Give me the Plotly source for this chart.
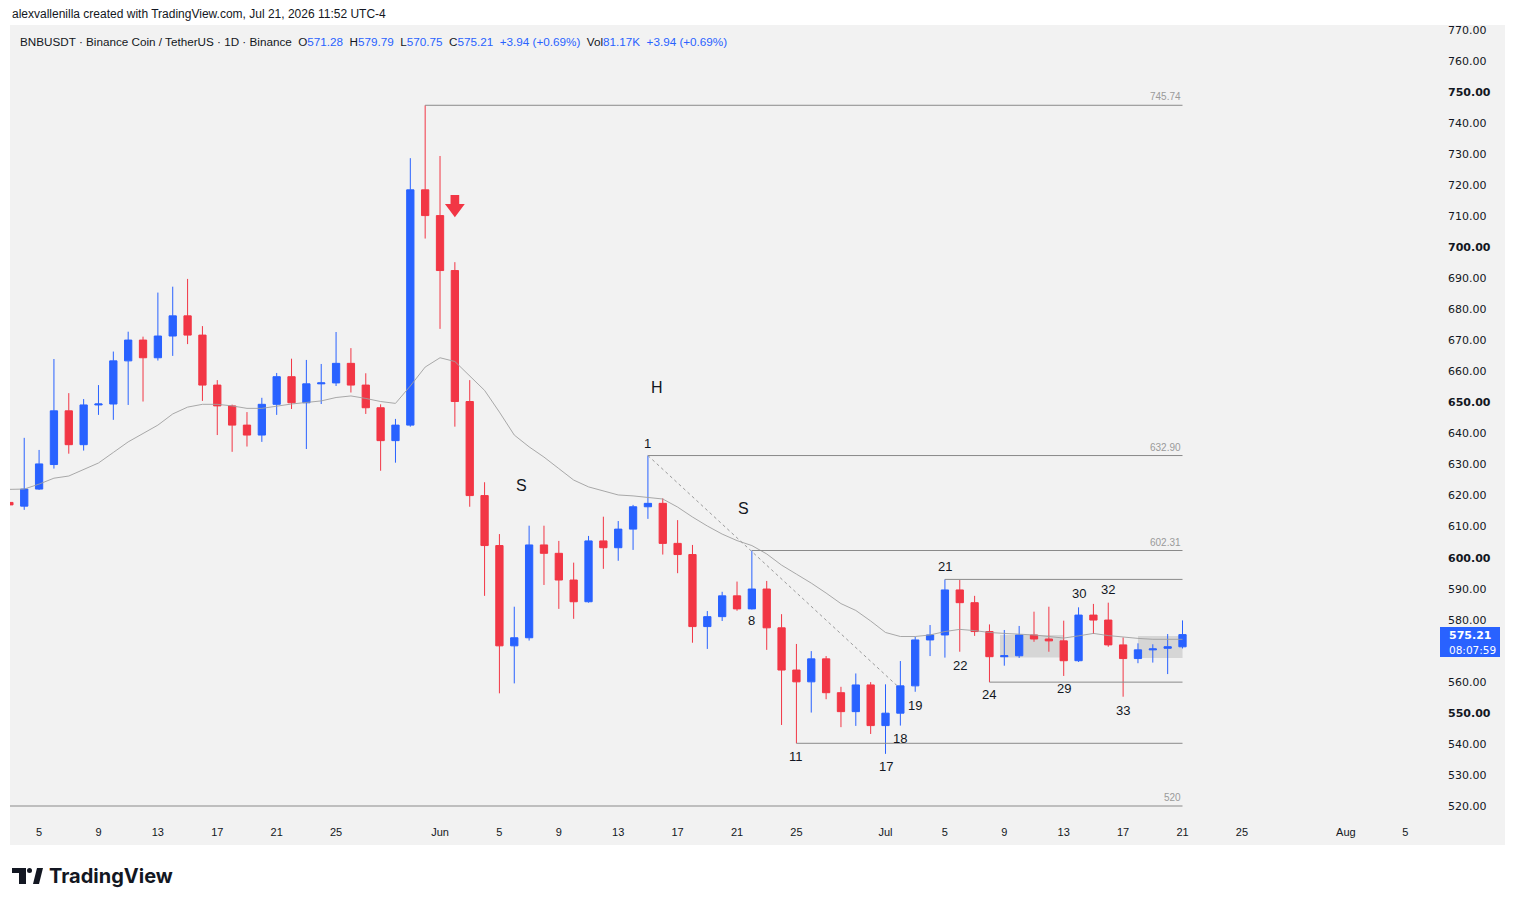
import plotly.graph_objects as go
import pandas as pd

# ---------------- data ----------------
dates = pd.date_range("2026-05-03", "2026-07-21", freq="D")
opens = [617.8, 616.6, 622.1, 630.0, 647.3, 636.4, 649.2, 649.5, 663.4, 670.1,
         664.4, 671.4, 677.9, 671.7, 655.6, 648.9, 642.7, 639.5, 649.4, 658.3,
         649.9, 656.0, 656.3, 662.6, 655.6, 648.3, 637.7, 642.7, 718.5, 710.2,
         692.5, 650.3, 620.0, 603.9, 571.6, 574.2, 604.1, 601.4, 592.8, 585.8,
         605.4, 603.2, 609.2, 616.4, 617.5, 604.6, 601.0, 577.8, 581.0, 587.7,
         583.5, 589.9, 577.4, 563.8, 560.0, 567.4, 556.5, 550.4, 559.0, 545.9,
         549.9, 558.7, 573.5, 575.1, 589.6, 585.5, 576.2, 568.1, 568.4, 575.1,
         573.8, 573.2, 566.8, 581.5, 579.9, 571.9, 567.5, 570.3, 570.8, 571.28]
highs = [618.2, 638.6, 634.7, 664.0, 653.0, 651.1, 655.6, 666.4, 672.8, 671.2,
         685.4, 687.3, 689.8, 674.6, 657.2, 649.3, 646.9, 651.5, 659.5, 664.1,
         663.7, 662.4, 672.7, 667.5, 659.4, 649.4, 644.7, 728.7, 745.74, 729.4,
         695.2, 657.2, 624.3, 607.6, 584.2, 610.3, 610.3, 605.4, 598.4, 607.0,
         613.2, 611.8, 617.0, 632.9, 619.1, 612.1, 604.1, 582.8, 589.0, 592.3,
         602.31, 592.5, 581.8, 572.2, 569.9, 568.3, 558.4, 562.7, 559.9, 559.2,
         566.7, 574.5, 578.3, 593.0, 592.8, 587.7, 578.5, 576.7, 578.0, 582.6,
         584.2, 579.7, 584.0, 585.1, 585.5, 574.3, 572.4, 572.1, 575.4, 579.79]
lows = [616.4, 615.4, 621.8, 628.7, 633.5, 634.5, 646.0, 644.4, 649.2, 650.3,
        663.5, 665.0, 668.8, 650.5, 639.5, 634.1, 635.8, 637.3, 646.0, 647.9,
        635.0, 649.5, 655.3, 653.2, 646.3, 628.0, 630.6, 642.2, 702.8, 673.7,
        642.2, 616.4, 587.7, 556.3, 559.5, 573.3, 591.2, 583.5, 580.3, 585.5,
        596.4, 599.0, 602.5, 612.5, 601.0, 595.0, 572.6, 570.6, 579.6, 582.9,
        583.3, 570.3, 546.1, 540.2, 550.1, 554.4, 545.4, 545.8, 543.2, 536.8,
        545.9, 556.8, 568.3, 567.8, 569.7, 574.8, 559.9, 565.2, 567.7, 572.9,
        569.7, 561.9, 566.4, 575.4, 571.3, 555.2, 566.0, 566.2, 562.5, 570.75]
closes = [617.0, 622.1, 630.2, 647.3, 636.4, 649.2, 649.5, 663.4, 670.1, 664.4,
          671.4, 677.9, 671.7, 655.6, 648.9, 642.7, 639.5, 649.4, 658.3, 649.9,
          656.0, 656.3, 662.6, 655.6, 648.3, 637.7, 642.7, 718.5, 710.2, 692.5,
          650.3, 620.0, 603.9, 571.6, 574.2, 604.1, 601.4, 592.8, 585.8, 605.4,
          603.2, 609.2, 616.4, 617.5, 604.6, 601.0, 577.8, 581.0, 587.7, 583.5,
          589.9, 577.4, 563.8, 560.0, 567.4, 556.5, 550.4, 559.0, 545.9, 549.9,
          558.7, 573.5, 575.1, 589.6, 585.5, 576.2, 568.1, 568.4, 575.1, 573.8,
          573.2, 566.8, 581.5, 579.9, 571.9, 567.5, 570.3, 570.6, 571.3, 575.21]
ma_values = [622.0, 622.1, 623.7, 625.6, 626.3, 628.4, 630.5, 633.9, 637.3, 640.0,
             642.7, 646.3, 648.5, 649.4, 649.4, 648.9, 648.1, 648.1, 648.9, 649.5,
             650.0, 650.5, 651.6, 652.1, 651.3, 650.3, 649.7, 655.3, 661.4, 664.4,
             663.2, 658.5, 653.9, 646.9, 639.5, 635.7, 632.4, 628.7, 625.0, 622.8,
             621.5, 620.2, 619.9, 619.5, 618.9, 616.3, 613.1, 610.2, 607.6, 605.5,
             603.9, 601.2, 597.6, 594.7, 591.8, 588.6, 585.2, 583.0, 579.6, 575.9,
             574.6, 574.6, 575.1, 576.2, 576.9, 576.5, 575.9, 575.6, 575.4, 575.1,
             574.6, 574.1, 574.8, 575.6, 574.9, 574.4, 574.0, 573.7, 573.7, 573.7]

level_prices = [745.74, 632.90, 602.31, 593.0, 559.9, 540.2, 520.0]
level_starts = ["2026-05-31", "2026-06-15", "2026-06-22", "2026-07-05",
                "2026-07-08", "2026-06-25", "2026-05-03 01:00"]
level_labels = ["745.74", "632.90", "602.31", "", "", "", "520"]
level_end = "2026-07-21"

box_x0 = ["2026-07-08 17:00", "2026-07-18 00:00"]
box_x1 = ["2026-07-13 00:00", "2026-07-21 00:00"]
box_lo = [567.8, 567.7]
box_hi = [575.1, 574.8]

diag_x = ["2026-06-15", "2026-07-01 19:00"]
diag_y = [632.9, 558.7]

label_texts = ["H", "S", "S", "1", "8", "11", "17", "18", "19", "21", "22", "24", "29", "30", "32", "33"]
label_x = ["2026-06-15 15:00", "2026-06-06 11:00", "2026-06-21 10:00", "2026-06-15", "2026-06-22",
           "2026-06-25", "2026-07-01", "2026-07-02", "2026-07-03", "2026-07-05", "2026-07-06",
           "2026-07-08", "2026-07-13", "2026-07-14", "2026-07-16", "2026-07-17"]
label_y = [654.7, 623.4, 615.7, 636.9, 579.6, 536.1, 532.6, 541.6, 552.5, 597.3, 565.4,
           555.8, 557.7, 588.3, 589.6, 550.9]

x_tick_vals = ["2026-05-05", "2026-05-09", "2026-05-13", "2026-05-17", "2026-05-21", "2026-05-25",
               "2026-06-01", "2026-06-05", "2026-06-09", "2026-06-13", "2026-06-17", "2026-06-21",
               "2026-06-25", "2026-07-01", "2026-07-05", "2026-07-09", "2026-07-13", "2026-07-17",
               "2026-07-21", "2026-07-25", "2026-08-01", "2026-08-05"]
x_tick_text = ["5", "9", "13", "17", "21", "25", "Jun", "5", "9", "13", "17", "21", "25",
               "Jul", "5", "9", "13", "17", "21", "25", "Aug", "5"]
# 570 is hidden behind the last-price tag in the reference
y_tick_vals = [v for v in range(520, 780, 10) if v != 570]
y_tick_text = [("<b>%.2f</b>" % v) if v % 50 == 0 else ("%.2f" % v) for v in y_tick_vals]

# ---------------- layout helpers ----------------
W, H = 1515, 906
PL, PR, PT, PB = 10, 1430, 25, 815


def pxx(x):
    return (x - PL) / (PR - PL)


def pxy(y):
    return (PB - y) / (PB - PT)


BLUE = "#2962ff"
RED = "#f23645"
TXT = "#131722"
GREY_LINE = "#8a8a8a"

fig = go.Figure()

fig.add_trace(go.Scatter(x=dates, y=ma_values, mode="lines",
                         line=dict(color="rgba(160,160,160,0.9)", width=1),
                         hoverinfo="skip", showlegend=False))

fig.add_trace(go.Candlestick(
    x=dates, open=opens, high=highs, low=lows, close=closes,
    increasing=dict(line=dict(color=BLUE, width=1), fillcolor=BLUE),
    decreasing=dict(line=dict(color=RED, width=1), fillcolor=RED),
    showlegend=False))

# red arrow (drawing) above Jun 2
ac = pd.Timestamp("2026-06-02")
h = pd.Timedelta(hours=1)
arrow_x = [ac - 7 * h, ac + 7 * h, ac + 7 * h, ac + 16 * h, ac, ac - 16 * h, ac - 7 * h, ac - 7 * h]
arrow_y = [716.8, 716.8, 713.9, 713.9, 709.7, 713.9, 713.9, 716.8]
fig.add_trace(go.Scatter(x=arrow_x, y=arrow_y, mode="lines", fill="toself",
                         fillcolor=RED, line=dict(color=RED, width=0),
                         hoverinfo="skip", showlegend=False))

shapes = []
# panel background
shapes.append(dict(type="rect", xref="paper", yref="paper",
                   x0=pxx(10), x1=pxx(1505), y0=pxy(845), y1=pxy(25),
                   fillcolor="#f2f2f2", line=dict(width=0), layer="below"))
# levels
for p, s in zip(level_prices, level_starts):
    shapes.append(dict(type="line", xref="x", yref="y", x0=s, x1=level_end, y0=p, y1=p,
                       line=dict(color=GREY_LINE, width=1)))
# boxes
for a, b, lo, hi in zip(box_x0, box_x1, box_lo, box_hi):
    shapes.append(dict(type="rect", xref="x", yref="y", x0=a, x1=b, y0=lo, y1=hi,
                       fillcolor="rgba(150,150,150,0.3)", line=dict(width=0), layer="below"))
# diagonal dotted
shapes.append(dict(type="line", xref="x", yref="y", x0=diag_x[0], x1=diag_x[1],
                   y0=diag_y[0], y1=diag_y[1], line=dict(color="#9a9a9a", width=1, dash="dot")))
# price tag
shapes.append(dict(type="rect", xref="paper", yref="paper",
                   x0=pxx(1440), x1=pxx(1500), y0=pxy(657), y1=pxy(627),
                   fillcolor=BLUE, line=dict(width=0)))
# TradingView logo
shapes.append(dict(type="rect", xref="paper", yref="paper", x0=pxx(12), x1=pxx(26),
                   y0=pxy(873), y1=pxy(868), fillcolor=TXT, line=dict(width=0)))
shapes.append(dict(type="rect", xref="paper", yref="paper", x0=pxx(19), x1=pxx(26),
                   y0=pxy(884), y1=pxy(868), fillcolor=TXT, line=dict(width=0)))
shapes.append(dict(type="circle", xref="paper", yref="paper", x0=pxx(27), x1=pxx(32),
                   y0=pxy(873), y1=pxy(868), fillcolor=TXT, line=dict(width=0)))
shapes.append(dict(type="path", xref="paper", yref="paper",
                   path="M %f,%f L %f,%f L %f,%f L %f,%f Z" % (
                       pxx(33), pxy(884), pxx(37), pxy(868), pxx(43), pxy(868), pxx(39), pxy(884)),
                   fillcolor=TXT, line=dict(width=0)))

annotations = []
annotations.append(dict(xref="paper", yref="paper", x=pxx(10), y=pxy(14), xanchor="left",
                        yanchor="middle", showarrow=False,
                        text="alexvallenilla created with TradingView.com, Jul 21, 2026 11:52 UTC-4",
                        font=dict(family="Liberation Sans", size=12, color=TXT)))
bl = "<span style='color:%s'>%%s</span>" % BLUE
header = ("BNBUSDT · Binance Coin / TetherUS · 1D · Binance  O" + bl % "571.28" + "  H" + bl % "579.79" +
          "  L" + bl % "570.75" + "  C" + bl % "575.21" + "  " + bl % "+3.94 (+0.69%)" +
          "  Vol" + bl % "81.17K" + "  " + bl % "+3.94 (+0.69%)")
annotations.append(dict(xref="paper", yref="paper", x=pxx(18), y=pxy(41), xanchor="left",
                        yanchor="middle", showarrow=False, text=header,
                        font=dict(family="Liberation Sans", size=11.7, color=TXT)))
for t, x, y in zip(label_texts, label_x, label_y):
    big = t in ("H", "S")
    annotations.append(dict(xref="x", yref="y", x=x, y=y, text=t, showarrow=False,
                            xanchor="center", yanchor="middle",
                            font=dict(family="Liberation Sans", size=16 if big else 13, color=TXT)))
for p, t in zip(level_prices, level_labels):
    if t:
        annotations.append(dict(xref="x", yref="y", x=level_end, y=p, text=t, showarrow=False,
                                xanchor="right", yanchor="bottom", yshift=1,
                                font=dict(family="Liberation Sans", size=10, color="#9a9a9a")))
annotations.append(dict(xref="paper", yref="paper", x=pxx(1447), y=pxy(635.5), xanchor="left",
                        yanchor="middle", showarrow=False, text="<b>575.21</b>",
                        font=dict(family="DejaVu Sans", size=11, color="white")))
annotations.append(dict(xref="paper", yref="paper", x=pxx(1447), y=pxy(650), xanchor="left",
                        yanchor="middle", showarrow=False, text="08:07:59",
                        font=dict(family="DejaVu Sans", size=10.5, color="white")))
annotations.append(dict(xref="paper", yref="paper", x=pxx(47), y=pxy(876), xanchor="left",
                        yanchor="middle", showarrow=False, text="<b>TradingView</b>",
                        font=dict(family="Inter", size=20, color=TXT)))

fig.update_layout(
    width=W, height=H,
    margin=dict(l=PL, r=W - PR, t=PT, b=H - PB),
    paper_bgcolor="white", plot_bgcolor="#f2f2f2",
    shapes=shapes, annotations=annotations,
    showlegend=False,
    xaxis=dict(range=["2026-05-03 01:00", "2026-08-06 16:00"], type="date",
               rangeslider=dict(visible=False), showgrid=False, zeroline=False,
               showline=False, tickmode="array", tickvals=x_tick_vals, ticktext=x_tick_text,
               ticks="", ticklabelstandoff=9,
               tickfont=dict(family="Liberation Sans", size=11, color=TXT)),
    yaxis=dict(range=[517.1, 771.6], side="right", showgrid=False, zeroline=False,
               showline=False, tickmode="array", tickvals=y_tick_vals, ticktext=y_tick_text,
               ticks="", ticklabelstandoff=17,
               tickfont=dict(family="DejaVu Sans", size=11, color=TXT)),
)

fig.write_html("out.html")
